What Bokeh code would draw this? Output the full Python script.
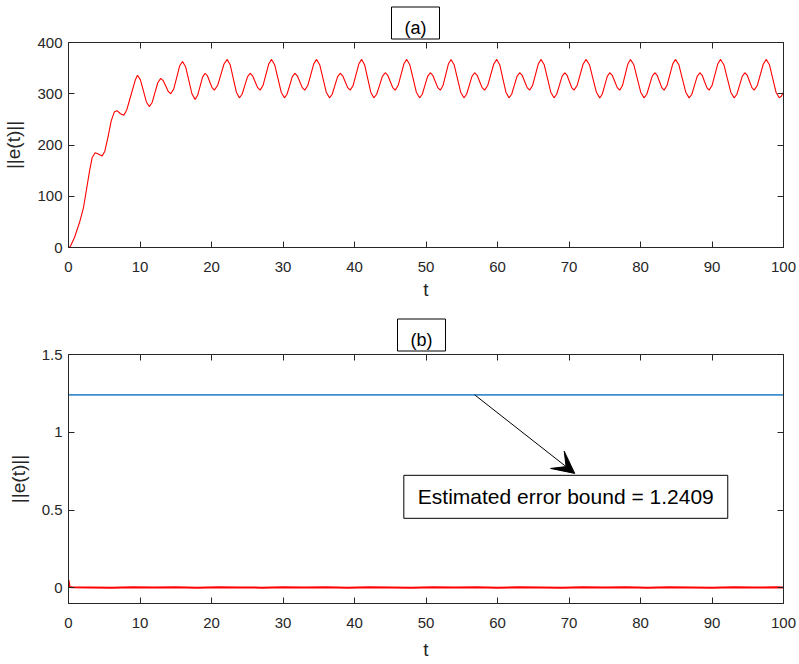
from bokeh.plotting import figure
from bokeh.layouts import column
from bokeh.models import (LinearAxis, Range1d, FixedTicker, Label, Arrow, VeeHead, Title,
                          NumeralTickFormatter, CustomJSTickFormatter)
from bokeh.embed import file_html
from bokeh.resources import INLINE

# ---------------- data ----------------
# panel (a): ||e(t)|| without control
t_a = [0, 0.25, 0.84, 1.54, 2.1, 2.56, 2.94, 3.3, 3.73, 4.24, 4.71, 5.08, 5.5, 5.97, 6.43, 6.8, 7.27, 7.74, 8.16, 8.76, 9.37, 9.65,
       10.06, 10.48, 10.89, 11.3, 11.7, 12.1, 12.5, 12.9, 13.25, 13.6, 13.95, 14.3, 14.71, 15.13, 15.54, 15.95,
       16.39, 16.83, 17.26, 17.7, 18.05, 18.4, 18.75, 19.1, 19.43, 19.75, 20.08, 20.4, 20.85, 21.3, 21.75, 22.2,
       22.63, 23.05, 23.48, 23.9, 24.28, 24.65, 25.03, 25.4, 25.75, 26.1, 26.45, 26.8, 27.2, 27.6, 28.0, 28.4,
       28.85, 29.3, 29.75, 30.2, 30.56, 30.93, 31.29, 31.65, 32.0, 32.35, 32.7, 33.05, 33.46, 33.88, 34.29, 34.7,
       35.15, 35.6, 36.05, 36.5, 36.88, 37.25, 37.63, 38.0, 38.35, 38.7, 39.05, 39.4, 39.8, 40.2, 40.6, 41.0,
       41.43, 41.85, 42.28, 42.7, 43.1, 43.5, 43.9, 44.3, 44.65, 45.0, 45.35, 45.7, 46.1, 46.5, 46.9, 47.3,
       47.75, 48.2, 48.65, 49.1, 49.48, 49.85, 50.23, 50.6, 50.95, 51.3, 51.65, 52.0, 52.38, 52.75, 53.13, 53.5,
       53.95, 54.4, 54.85, 55.3, 55.68, 56.05, 56.43, 56.8, 57.15, 57.5, 57.85, 58.2, 58.63, 59.05, 59.48, 59.9,
       60.33, 60.75, 61.18, 61.6, 61.98, 62.35, 62.73, 63.1, 63.45, 63.8, 64.15, 64.5, 64.9, 65.3, 65.7, 66.1,
       66.55, 67.0, 67.45, 67.9, 68.28, 68.65, 69.03, 69.4, 69.73, 70.05, 70.38, 70.7, 71.13, 71.55, 71.98, 72.4,
       72.88, 73.35, 73.83, 74.3, 74.65, 75.0, 75.35, 75.7, 76.05, 76.4, 76.75, 77.1, 77.48, 77.85, 78.23, 78.6,
       79.08, 79.55, 80.03, 80.5, 80.88, 81.25, 81.63, 82.0, 82.33, 82.65, 82.98, 83.3, 83.7, 84.1, 84.5, 84.9,
       85.38, 85.85, 86.33, 86.8, 87.18, 87.55, 87.93, 88.3, 88.63, 88.95, 89.28, 89.6, 90.0, 90.4, 90.8, 91.2,
       91.68, 92.15, 92.63, 93.1, 93.48, 93.85, 94.23, 94.6, 94.93, 95.25, 95.58, 95.9, 96.33, 96.75, 97.18, 97.6,
       98.05, 98.5, 98.95, 99.4, 99.7, 100.0]
e_a = [0, 2, 19.5, 48.7, 78, 117, 149, 175, 185, 182, 178.5, 188, 214, 247, 265, 267, 261, 258, 269, 298.5, 328, 336,
       327, 305.5, 284, 275, 283, 302.5, 322, 330, 325.5, 315, 304.5, 300, 309, 331.5, 354, 363,
       352, 326, 300, 289, 296.5, 314.5, 332.5, 340, 335, 323.5, 312, 307, 316, 337, 358, 367,
       356, 329.5, 303, 292, 299, 316, 333, 340, 335, 323.5, 312, 307, 316, 337, 358, 367,
       356, 329.5, 303, 292, 299, 316, 333, 340, 335, 323.5, 312, 307, 316, 337, 358, 367,
       356, 329.5, 303, 292, 299, 316, 333, 340, 335, 323.5, 312, 307, 316, 337, 358, 367,
       356, 329.5, 303, 292, 299, 316.5, 334, 341, 336, 324, 312, 307, 316, 337, 358, 367,
       356, 329.5, 303, 292, 299, 316.5, 334, 341, 336, 324, 312, 307, 316, 337, 358, 367,
       356, 329.5, 303, 292, 299, 316.5, 334, 341, 336, 324, 312, 307, 316, 337, 358, 367,
       356, 329.5, 303, 292, 299, 316.5, 334, 341, 336, 324, 312, 307, 316, 337, 358, 367,
       356, 329.5, 303, 292, 299, 316.5, 334, 341, 336, 324, 312, 307, 316, 337, 358, 367,
       356, 329.5, 303, 292, 299, 316.5, 334, 341, 336, 324, 312, 307, 316, 337, 358, 367,
       356, 329.5, 303, 292, 299, 316.5, 334, 341, 336, 324, 312, 307, 316, 337, 358, 367,
       356, 329.5, 303, 292, 299, 316.5, 334, 341, 336, 324, 312, 307, 316, 337, 358, 367,
       356, 329.5, 303, 292, 299, 316.5, 334, 341, 336, 324, 312, 307, 316, 337, 358, 367,
       356, 329.5, 303, 292, 295, 303]

# panel (b): ||e(t)|| with control, and the estimated bound
t_b = [0, 0.15, 0.5, 3, 6, 9, 12, 15, 18, 21, 24, 27, 30, 33, 36, 39, 42, 45, 48,
       51, 54, 57, 60, 63, 66, 69, 72, 75, 78, 81, 84, 87, 90, 93, 96, 99, 100]
e_b = [0.05, 0.006, 0.004, 0.003, 0.002, 0.004, 0.003, 0.005, 0.002, 0.004, 0.003, 0.002, 0.004, 0.003, 0.005, 0.002, 0.004, 0.003, 0.002,
       0.004, 0.003, 0.005, 0.002, 0.004, 0.003, 0.002, 0.004, 0.003, 0.005, 0.002, 0.004, 0.003, 0.002, 0.004, 0.003, 0.004, 0.003]
t_bound = [0, 100]
bound_value = 1.2409
e_bound = [bound_value, bound_value]

x_ticks = [0, 10, 20, 30, 40, 50, 60, 70, 80, 90, 100]
y_ticks_a = [0, 100, 200, 300, 400]
y_ticks_b = [0, 0.5, 1, 1.5]

# ---------------- styling helpers ----------------
FONT = "Liberation Sans"
AX = "#262626"
TICK_SIZE = "15px"
LABEL_SIZE = "19px"


def style_axis(ax):
    ax.axis_line_color = AX
    ax.axis_line_width = 1
    ax.major_tick_line_color = AX
    ax.major_tick_in = 6
    ax.major_tick_out = 0
    ax.minor_tick_line_color = None
    ax.major_label_text_font = FONT
    ax.major_label_text_font_size = TICK_SIZE
    ax.major_label_text_color = AX
    ax.axis_label_text_font = FONT
    ax.axis_label_text_font_size = LABEL_SIZE
    ax.axis_label_text_font_style = "normal"
    ax.axis_label_text_color = AX


def make_fig(height, yr, yticks, top, bottom, title, title_offset, xlab_standoff, yfmt=None):
    p = figure(width=799, height=height, x_range=Range1d(0, 100), y_range=Range1d(*yr),
               output_backend="svg", toolbar_location=None,
               min_border_left=68, min_border_right=16,
               min_border_top=top, min_border_bottom=bottom)
    p.title = Title(text=title, align="left", offset=title_offset, standoff=7,
                    text_font=FONT, text_font_size="18px", text_font_style="normal",
                    text_color="black", border_line_color="black", border_line_width=1,
                    background_fill_color="white",
                    padding=dict(left=13, right=13, top=11, bottom=1))
    p.xgrid.visible = False
    p.ygrid.visible = False
    p.outline_line_color = AX
    p.outline_line_width = 1
    p.background_fill_color = "white"
    p.border_fill_color = "white"
    p.xaxis.ticker = FixedTicker(ticks=x_ticks)
    p.yaxis.ticker = FixedTicker(ticks=yticks)
    if yfmt is not None:
        p.yaxis.formatter = yfmt
    p.xaxis.axis_label = "t"
    p.yaxis.axis_label = "||e(t)||"
    p.xaxis.major_label_standoff = 14
    p.yaxis.major_label_standoff = 6
    p.xaxis.axis_label_standoff = xlab_standoff
    p.yaxis.axis_label_standoff = 10
    for ax in p.xaxis + p.yaxis:
        style_axis(ax)
    blank = CustomJSTickFormatter(code="return ''")
    top_ax = LinearAxis(ticker=FixedTicker(ticks=x_ticks), formatter=blank)
    right_ax = LinearAxis(ticker=FixedTicker(ticks=yticks), formatter=blank)
    for ax in (top_ax, right_ax):
        style_axis(ax)
        ax.major_label_standoff = 0
    p.add_layout(top_ax, "above")
    p.add_layout(right_ax, "right")
    return p


# ---------------- panel (a) ----------------
p1 = make_fig(305, (0, 400), y_ticks_a, 42, 58, "(a)", 323, 4)
p1.line(t_a, e_a, line_color="#ff0000", line_width=1.1)

# ---------------- panel (b) ----------------
p2 = make_fig(359, (-0.1, 1.5), y_ticks_b, 49, 61, "(b)", 329, 8, NumeralTickFormatter(format="0.[0]"))
p2.line(t_bound, e_bound, line_color="#3f8fce", line_width=1.8)
p2.line(t_b, e_b, line_color="#ff0000", line_width=2)
p2.add_layout(Arrow(end=VeeHead(size=22, fill_color="black", line_color="black"),
                    x_start=56.8, y_start=bound_value, x_end=70.8, y_end=0.736,
                    line_color="black", line_width=1))
p2.add_layout(Label(x=69.55, y=0.5855, text="Estimated error bound = 1.2409",
                    text_align="center", text_baseline="middle",
                    text_font=FONT, text_font_size="21px", text_color="black",
                    border_line_color="black", border_line_width=1,
                    background_fill_color="white", padding=(14, 10)))

layout = column(p1, p2, spacing=0)
open("out.html", "w").write(file_html(layout, INLINE))
